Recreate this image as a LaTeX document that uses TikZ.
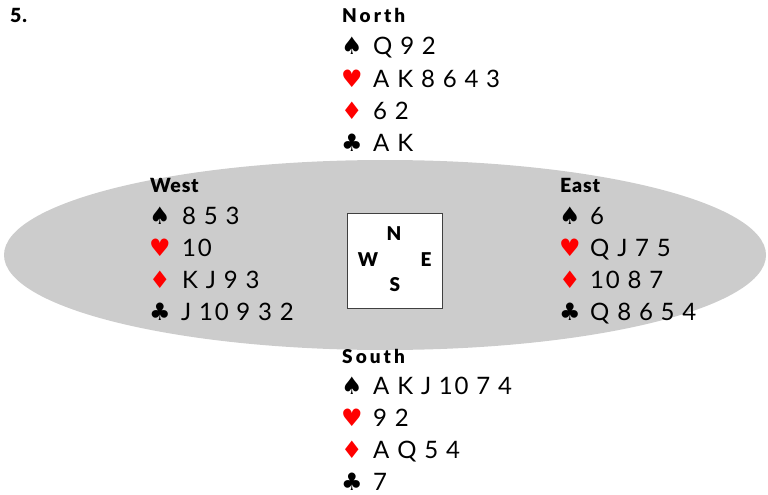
\documentclass[tikz,border=0pt]{standalone}
\usepackage{fontspec}
\setmainfont{Lato}
\newfontfamily\cardfont[LetterSpace=7]{Lato}
\newfontfamily\suitfont{DejaVu Sans}
\newfontfamily\headfont[LetterSpace=16]{Lato Black}
\newfontfamily\headfontW[LetterSpace=4]{Lato Black}
\newfontfamily\compassfont{Lato Black}
\definecolor{tablegray}{HTML}{CCCCCC}
\definecolor{suitred}{HTML}{FF0000}
\begin{document}
\begin{tikzpicture}[x=1pt,y=-1pt,
  cardrow/.style={anchor=base west, inner sep=0pt, font=\cardfont\fontsize{24}{24}\selectfont},
  suit/.style={anchor=base west, inner sep=0pt, font=\suitfont\fontsize{24}{24}\selectfont},
  redsuit/.style={suit, text=suitred},
  heading/.style={anchor=base west, inner sep=0pt, font=\headfont\fontsize{19}{19}\selectfont},
  headingW/.style={anchor=base west, inner sep=0pt, font=\headfontW\fontsize{19.5}{19.5}\selectfont},
  compass/.style={anchor=base, inner sep=0pt, font=\compassfont\fontsize{19}{19}\selectfont}]
\useasboundingbox (0,0) rectangle (768,495);
% table
\fill[tablegray] (385,255) ellipse [x radius=381, y radius=95];
% board number
\node[headingW] (num) at (10,23) {5.};
% compass box
\node[draw=black!75, fill=white, line width=0.8pt, minimum width=95pt, minimum height=95pt, inner sep=0pt] (box) at (394.5,261) {};
\node[compass] (cn) at (394,240.7) {N};
\node[compass] (cw) at (368,266.7) {W};
\node[compass] (ce) at (426,266.7) {E};
\node[compass] (cs) at (395,291.7) {S};
% North
\node[heading] (nh) at (342,23) {North};
\node[suit] (ns) at (341,55) {♠};   \node[cardrow] (nst) at (373,55) {Q 9 2};
\node[redsuit] (nhh) at (341,87) {♥}; \node[cardrow] (nht) at (373,87) {A K 8 6 4 3};
\node[redsuit] (nd) at (341,119) {♦}; \node[cardrow] (ndt) at (373,119) {6 2};
\node[suit] (nc) at (341,151) {♣};  \node[cardrow] (nct) at (373,151) {A K};
% West
\node[headingW] (wh) at (150,192) {West};
\node[suit] (ws) at (149,224) {♠};   \node[cardrow] (wst) at (182,224) {8 5 3};
\node[redsuit] (whh) at (149,256) {♥}; \node[cardrow] (wht) at (182,256) {10};
\node[redsuit] (wd) at (149,288) {♦}; \node[cardrow] (wdt) at (182,288) {K J 9 3};
\node[suit] (wc) at (149,320) {♣};  \node[cardrow] (wct) at (181,320) {J 10 9 3 2};
% East
\node[headingW] (eh) at (560,192) {East};
\node[suit] (es) at (559,224) {♠};   \node[cardrow] (est) at (590,224) {6};
\node[redsuit] (ehh) at (559,256) {♥}; \node[cardrow] (eht) at (590,256) {Q J 7 5};
\node[redsuit] (ed) at (559,288) {♦}; \node[cardrow] (edt) at (590,288) {10 8 7};
\node[suit] (ec) at (559,320) {♣};  \node[cardrow] (ect) at (590,320) {Q 8 6 5 4};
% South
\node[heading] (sh) at (342,363) {South};
\node[suit] (ss) at (341,394) {♠};   \node[cardrow] (sst) at (373,394) {A K J 10 7 4};
\node[redsuit] (shh) at (341,426) {♥}; \node[cardrow] (sht) at (373,426) {9 2};
\node[redsuit] (sd) at (341,458) {♦}; \node[cardrow] (sdt) at (373,458) {A Q 5 4};
\node[suit] (sc) at (341,490) {♣};  \node[cardrow] (sct) at (373,490) {7};
\end{tikzpicture}
\end{document}
